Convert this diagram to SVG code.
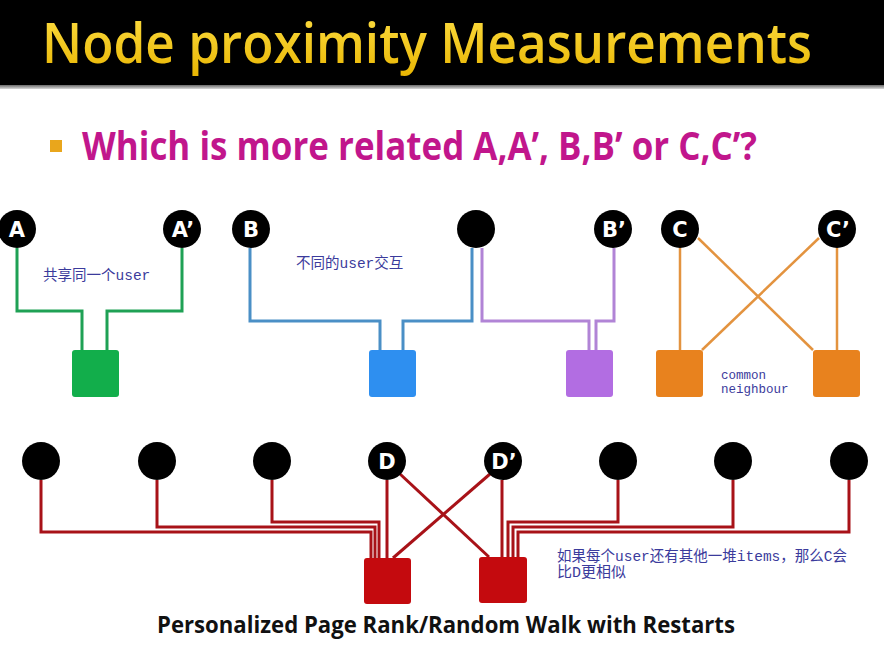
<svg xmlns="http://www.w3.org/2000/svg" width="884" height="647" viewBox="0 0 884 647">
<defs>
<linearGradient id="tg" x1="0" y1="0" x2="0" y2="1">
<stop offset="0" stop-color="#FFE24A"/>
<stop offset="1" stop-color="#E8B400"/>
</linearGradient>
<linearGradient id="hl" x1="0" y1="0" x2="0" y2="1">
<stop offset="0" stop-color="#6a6a6a"/>
<stop offset="1" stop-color="#d8d8d8"/>
</linearGradient>
</defs>
<style>
.node circle{fill:#000}
.node text{fill:#fff;font-family:"DejaVu Sans","Liberation Sans",sans-serif;font-weight:bold;font-size:21px;text-anchor:middle}
.lbl{font-family:"Liberation Mono","Noto Sans CJK SC",monospace;fill:#3b3b9c}
.c{fill:none;stroke-width:3;stroke-linejoin:miter}
.g{stroke:#1FA155}
.b{stroke:#4A8FC6}
.p{stroke:#B184D6}
.o{stroke:#E3933F;stroke-width:2.5}
.r{stroke:#A81218}
</style>
<rect x="0" y="0" width="884" height="85" fill="#000"/>
<rect x="0" y="85" width="884" height="4" fill="url(#hl)"/>
<text x="42" y="63" font-family="'Open Sans','Liberation Sans',sans-serif" font-weight="600" font-size="56" fill="url(#tg)" textLength="770" lengthAdjust="spacingAndGlyphs">Node proximity Measurements</text>
<rect x="50" y="140" width="12" height="12" fill="#E9A61C"/>
<text x="82" y="160" font-family="'Open Sans','Liberation Sans',sans-serif" font-weight="bold" font-size="39" fill="#C1168C" textLength="675" lengthAdjust="spacingAndGlyphs">Which is more related A,A’, B,B’ or C,C’?</text>

<g id="connectors">
<path class="c g" d="M17,248 V311 H82 V350"/>
<path class="c g" d="M182,248 V311 H107 V350"/>
<path class="c b" d="M250,248 V321 H380 V350"/>
<path class="c b" d="M472,248 V321 H403 V350"/>
<path class="c p" d="M482,248 V321 H589 V350"/>
<path class="c p" d="M614,248 V321 H596 V350"/>
<path class="c o" d="M680,248 V350"/>
<path class="c o" d="M837,248 V350"/>
<path class="c o" d="M698,238 L813,350"/>
<path class="c o" d="M819,238 L702,350"/>
<path class="c r" d="M41,480 V532 H371 V558"/>
<path class="c r" d="M157,480 V527 H375 V558"/>
<path class="c r" d="M272,480 V522 H379 V558"/>
<path class="c r" d="M387,480 V558"/>
<path class="c r" d="M400,474 L489,557"/>
<path class="c r" d="M490,474 L393,558"/>
<path class="c r" d="M502,480 V557"/>
<path class="c r" d="M618,480 V522 H508 V557"/>
<path class="c r" d="M733,480 V527 H513 V557"/>
<path class="c r" d="M849,480 V532 H518 V557"/>
</g>

<g id="nA" class="node"><circle cx="17" cy="229" r="19"/><text x="17" y="237">A</text></g>
<g id="nA2" class="node"><circle cx="182" cy="229" r="19"/><text x="183" y="237">A’</text></g>
<g id="nB" class="node"><circle cx="251" cy="229" r="19"/><text x="251" y="237">B</text></g>
<g id="nU" class="node"><circle cx="476" cy="229" r="19"/></g>
<g id="nB2" class="node"><circle cx="613" cy="229" r="19"/><text x="614" y="237">B’</text></g>
<g id="nC" class="node"><circle cx="680" cy="229" r="19"/><text x="680" y="237">C</text></g>
<g id="nC2" class="node"><circle cx="837" cy="229" r="19"/><text x="838" y="237">C’</text></g>

<g id="sG"><rect x="72" y="350" width="47" height="47" rx="3" fill="#12AE4B"/></g>
<g id="sB"><rect x="369" y="350" width="47" height="47" rx="3" fill="#2E8FF0"/></g>
<g id="sP"><rect x="566" y="350" width="47" height="47" rx="3" fill="#B26DE2"/></g>
<g id="sO1"><rect x="656" y="350" width="47" height="47" rx="3" fill="#E8821E"/></g>
<g id="sO2"><rect x="813" y="350" width="47" height="47" rx="3" fill="#E8821E"/></g>

<g id="d1" class="node"><circle cx="41" cy="461" r="19"/></g>
<g id="d2" class="node"><circle cx="157" cy="461" r="19"/></g>
<g id="d3" class="node"><circle cx="272" cy="461" r="19"/></g>
<g id="nD" class="node"><circle cx="387" cy="461" r="19"/><text x="387" y="469">D</text></g>
<g id="nD2" class="node"><circle cx="503" cy="461" r="19"/><text x="504" y="469">D’</text></g>
<g id="d6" class="node"><circle cx="618" cy="461" r="19"/></g>
<g id="d7" class="node"><circle cx="733" cy="461" r="19"/></g>
<g id="d8" class="node"><circle cx="849" cy="461" r="19"/></g>

<g id="sR1"><rect x="364" y="558" width="47" height="46" rx="3" fill="#C40A0E"/></g>
<g id="sR2"><rect x="479" y="557" width="48" height="46" rx="3" fill="#C40A0E"/></g>

<text class="lbl" x="43" y="280" font-size="14.5">共享同一个user</text>
<text class="lbl" x="296" y="268" font-size="14.5">不同的user交互</text>
<text class="lbl" x="721" y="379" font-size="12.5">common</text>
<text class="lbl" x="721" y="393" font-size="12.5">neighbour</text>
<text class="lbl" x="557" y="561" font-size="15" textLength="290" lengthAdjust="spacingAndGlyphs">如果每个user还有其他一堆items，那么C会</text>
<text class="lbl" x="557" y="577" font-size="15">比D更相似</text>

<text x="157" y="633" font-family="'Open Sans','Liberation Sans',sans-serif" font-weight="bold" font-size="23" fill="#111" textLength="578" lengthAdjust="spacingAndGlyphs">Personalized Page Rank/Random Walk with Restarts</text>
</svg>
